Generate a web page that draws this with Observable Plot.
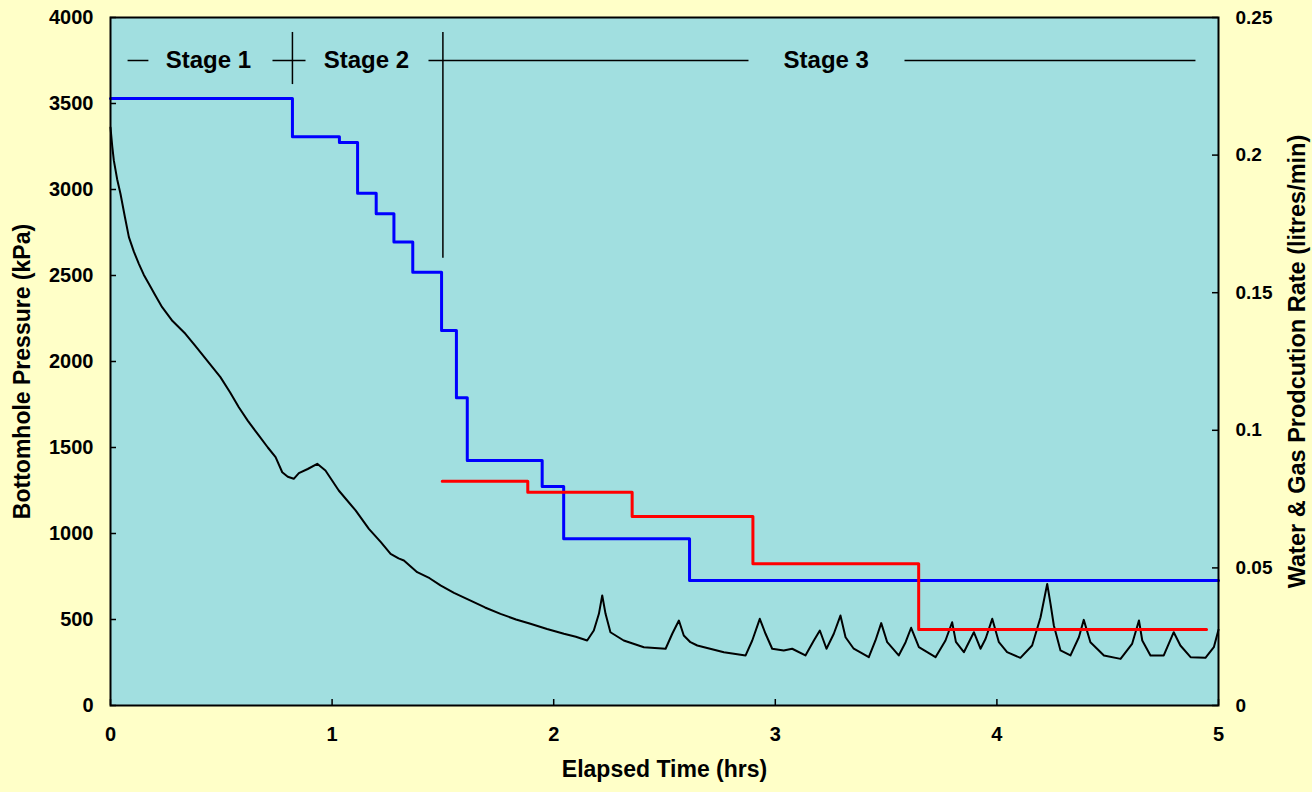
<!DOCTYPE html>
<html>
<head>
<meta charset="utf-8">
<script src="https://cdn.jsdelivr.net/npm/d3@7"></script>
<script src="https://cdn.jsdelivr.net/npm/@observablehq/plot@0.6"></script>
<style>
  html, body { margin: 0; padding: 0; background: #FFFFC8; }
  #chart { width: 1312px; height: 792px; }
</style>
</head>
<body>
<div id="chart"></div>
<script>
// Bottomhole pressure trace (elapsed hours, kPa)
const pressureTime = [
  0, 0.008, 0.015, 0.03, 0.045, 0.065, 0.083, 0.105, 0.128, 0.15, 0.173, 0.2, 0.233, 0.28, 0.338, 0.38,
  0.429, 0.496, 0.54, 0.579, 0.62, 0.669, 0.71, 0.745, 0.775, 0.8, 0.827, 0.85, 0.89, 0.933, 0.97, 1.03,
  1.106, 1.166, 1.22, 1.264, 1.3, 1.324, 1.384, 1.44, 1.489, 1.55, 1.625, 1.69, 1.76, 1.83, 1.895, 1.97,
  2.046, 2.1, 2.151, 2.181, 2.204, 2.219, 2.234, 2.256, 2.316, 2.407, 2.505, 2.535, 2.565, 2.587, 2.617, 2.648,
  2.768, 2.866, 2.896, 2.93, 2.956, 2.986, 3.038, 3.076, 3.136, 3.174, 3.201, 3.231, 3.264, 3.294, 3.317, 3.354,
  3.422, 3.452, 3.478, 3.505, 3.557, 3.588, 3.613, 3.648, 3.723, 3.768, 3.798, 3.815, 3.851, 3.896, 3.926, 3.949,
  3.979, 4.009, 4.046, 4.106, 4.159, 4.197, 4.227, 4.242, 4.257, 4.287, 4.332, 4.37, 4.392, 4.422, 4.483, 4.558,
  4.61, 4.641, 4.656, 4.693, 4.753, 4.798, 4.828, 4.874, 4.941, 4.979, 5.0
];
const pressureKPa = [
  3360, 3250, 3169, 3060, 2975, 2840, 2723, 2640, 2568, 2505, 2452, 2390, 2316, 2235, 2161, 2095,
  2016, 1909, 1820, 1734, 1655, 1570, 1500, 1444, 1356, 1330, 1318, 1351, 1375, 1405, 1366, 1250,
  1134, 1027, 950, 882, 855, 843, 775, 740, 698, 655, 610, 570, 533, 500, 475, 445,
  417, 400, 378, 436, 533, 640, 533, 426, 378, 339, 330, 417, 494, 407, 368, 349,
  310, 291, 378, 504, 417, 330, 320, 330, 291, 378, 436, 330, 417, 523, 397, 330,
  281, 378, 479, 368, 291, 368, 452, 339, 281, 378, 484, 370, 310, 426, 330, 388,
  504, 368, 310, 277, 349, 513, 707, 591, 465, 320, 291, 397, 498, 368, 291, 271,
  358, 494, 378, 291, 291, 426, 349, 281, 277, 339, 440
];

// Step rates on the right-hand axis (litres/min)
const blueTime = [0, 0.821, 1.033, 1.115, 1.199, 1.279, 1.364, 1.494, 1.561, 1.61, 1.948, 2.045, 2.613, 5.0];
const blueRate = [0.2206, 0.2067, 0.2046, 0.1861, 0.1787, 0.1684, 0.1574, 0.1363, 0.1118, 0.089, 0.0796, 0.0606, 0.0454, 0.0454];
const redTime = [1.497, 1.883, 2.354, 2.899, 3.647, 4.946];
const redRate = [0.0815, 0.0775, 0.0687, 0.0515, 0.0276, 0.0276];

// Axis ticks
const xTicks = [0, 1, 2, 3, 4, 5];
const pressureTicks = [0, 500, 1000, 1500, 2000, 2500, 3000, 3500, 4000];
const rateTicks = [0, 0.05, 0.1, 0.15, 0.2, 0.25];
const rateMax = 0.25, pressureMax = 4000;
const rateToKPa = pressureMax / rateMax;

// Stage annotations (hours, kPa)
const stageNames = ["Stage 1", "Stage 2", "Stage 3"];
const stageLabelTime = [0.442, 1.155, 3.23];
const stageLevel = 3750;
const stageDashStart = [0.077, 0.731, 1.435, 3.583];
const stageDashEnd = [0.171, 0.880, 2.879, 4.896];
const stageBoundary = [0.821, 1.5];
const stageBoundaryTop = [3913, 3913];
const stageBoundaryBottom = [3610, 2600];

const pressure = pressureTime.map((t, i) => ({t, p: pressureKPa[i]}));
const blue = blueTime.map((t, i) => ({t, r: blueRate[i]}));
const red = redTime.map((t, i) => ({t, r: redRate[i]}));
const dashes = stageDashStart.map((s, i) => ({s, e: stageDashEnd[i]}));
const bounds = stageBoundary.map((t, i) => ({t, y1: stageBoundaryBottom[i], y2: stageBoundaryTop[i]}));

const fontFamily = "Arial, 'Liberation Sans', Helvetica, sans-serif";

const chart = Plot.plot({
  width: 1312,
  height: 792,
  marginLeft: 110,
  marginRight: 94,
  marginTop: 17,
  marginBottom: 87,
  style: {background: "#FFFFC8", fontFamily, fontWeight: "bold", color: "black", overflow: "visible"},
  x: {domain: [0, 5]},
  y: {domain: [0, pressureMax]},
  marks: [
    Plot.frame({fill: "#A1DFE0"}),
    // axis labels
    Plot.axisX({ticks: xTicks, tickSize: 0, tickPadding: 21, fontSize: 20, label: null, tickFormat: d => String(d)}),
    Plot.axisY({ticks: pressureTicks, tickSize: 0, tickPadding: 17, fontSize: 20, label: null, tickFormat: d => String(d)}),
    Plot.axisY({anchor: "right", ticks: rateTicks.map(r => r * rateToKPa), tickSize: 0, tickPadding: 17,
      fontSize: 19, label: null, tickFormat: d => String(+(d / rateToKPa).toFixed(2))}),
    // inward tick marks
    Plot.tickY(pressureTicks, {y: d => d, insetRight: 1102, stroke: "black", strokeWidth: 1.5}),
    Plot.tickY(rateTicks, {y: d => d * rateToKPa, insetLeft: 1102, stroke: "black", strokeWidth: 1.5}),
    Plot.tickX(xTicks, {x: d => d, insetTop: 682, stroke: "black", strokeWidth: 1.5}),
    // stage annotations
    Plot.link(dashes, {x1: "s", x2: "e", y1: stageLevel, y2: stageLevel, stroke: "black", strokeWidth: 1.5}),
    Plot.ruleX(bounds, {x: "t", y1: "y1", y2: "y2", stroke: "black", strokeWidth: 1.5}),
    Plot.text(stageNames, {x: (d, i) => stageLabelTime[i], y: stageLevel, fontSize: 24, fill: "black"}),
    // data
    Plot.line(pressure, {x: "t", y: "p", stroke: "black", strokeWidth: 2}),
    Plot.line(blue, {x: "t", y: d => d.r * rateToKPa, curve: "step-after", stroke: "#0000FF", strokeWidth: 3}),
    Plot.line(red, {x: "t", y: d => d.r * rateToKPa, curve: "step-after", stroke: "#FF0000", strokeWidth: 3}),
    Plot.frame({stroke: "black", strokeWidth: 2}),
    // axis titles
    Plot.text(["Elapsed Time (hrs)"], {frameAnchor: "bottom", dy: 71, fontSize: 23, fill: "black"}),
    Plot.text(["Bottomhole Pressure (kPa)"], {frameAnchor: "left", textAnchor: "middle", dx: -88, dy: 10, rotate: -90, fontSize: 23, fill: "black"}),
    Plot.text(["Water & Gas Prodcution Rate (litres/min)"], {frameAnchor: "right", textAnchor: "middle", dx: 79, rotate: -90, fontSize: 23.5, fill: "black"})
  ]
});
document.getElementById("chart").appendChild(chart);
</script>
</body>
</html>
